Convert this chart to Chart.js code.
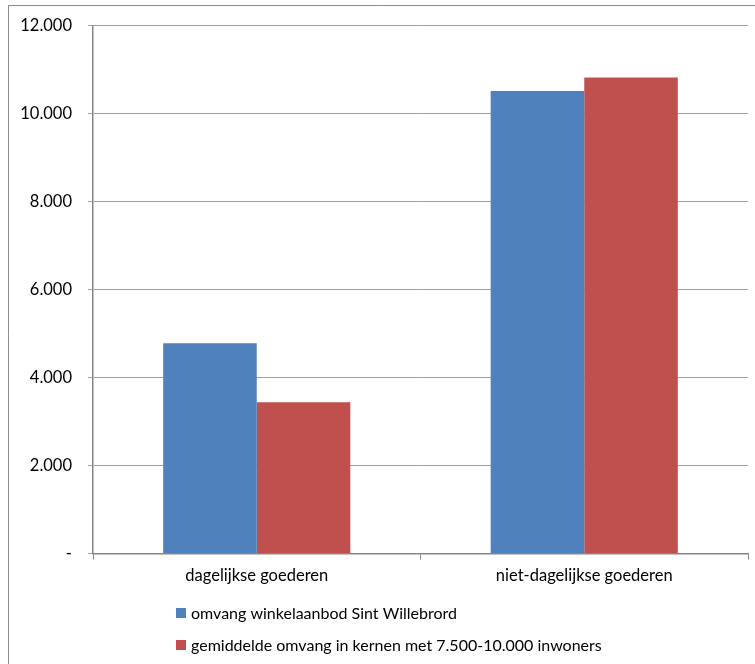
<!DOCTYPE html>
<html>
<head>
<meta charset="utf-8">
<script src="https://cdn.jsdelivr.net/npm/chart.js@4.4.1/dist/chart.umd.min.js"></script>
<style>
  html, body { margin: 0; padding: 0; background: #fff; }
  #wrap { width: 755px; height: 664px; }
</style>
</head>
<body>
<div id="wrap"><canvas id="c" width="755" height="664"></canvas></div>
<script>
// Winkelaanbod (m² wvo) per branchegroep
const categories = ['dagelijkse goederen', 'niet-dagelijkse goederen'];
const seriesNames = [
  'omvang winkelaanbod Sint Willebrord',
  'gemiddelde omvang in kernen met 7.500-10.000 inwoners'
];
const sintWillebrord = [4780, 10520];
const gemiddeldeKernen = [3440, 10825];
const yTickLabels = ['-', '2.000', '4.000', '6.000', '8.000', '10.000', '12.000'];
const seriesColors = ['#4F81BD', '#C0504D'];

const FONT = 'Lato, "Open Sans", sans-serif';
const FONT_SIZE = 16.5;
const LEGEND_FONT_SIZE = 16;

// Frame around the chart plus a vertical legend beneath the axis
const framePlugin = {
  id: 'frame',
  beforeDraw(chart) {
    const ctx = chart.ctx;
    ctx.save();
    ctx.fillStyle = '#fff';
    ctx.fillRect(0, 0, chart.width, chart.height);
    ctx.strokeStyle = '#8c8c8c';
    ctx.lineWidth = 1;
    ctx.beginPath();
    ctx.moveTo(8.5, chart.height);
    ctx.lineTo(8.5, 5.5);
    ctx.lineTo(chart.width, 5.5);
    ctx.stroke();
    ctx.restore();
  },
  afterDraw(chart) {
    const ctx = chart.ctx;
    ctx.save();
    ctx.font = LEGEND_FONT_SIZE + 'px ' + FONT;
    ctx.textBaseline = 'middle';
    ctx.textAlign = 'left';
    const x0 = 176, rows = [613, 645];
    chart.data.datasets.forEach((ds, i) => {
      ctx.fillStyle = ds.backgroundColor;
      ctx.fillRect(x0, rows[i] - 5, 10, 10);
      ctx.fillStyle = '#000';
      ctx.fillText(ds.label, x0 + 15, rows[i] + 1);
    });
    ctx.restore();
  }
};

new Chart(document.getElementById('c'), {
  type: 'bar',
  data: {
    labels: categories,
    datasets: [
      { label: seriesNames[0], data: sintWillebrord, backgroundColor: seriesColors[0] },
      { label: seriesNames[1], data: gemiddeldeKernen, backgroundColor: seriesColors[1] }
    ]
  },
  options: {
    responsive: false,
    devicePixelRatio: 1,
    animation: false,
    layout: { padding: { left: 0, top: 25, right: 7, bottom: 0 } },
    datasets: { bar: { categoryPercentage: 0.5714, barPercentage: 1, borderWidth: 0 } },
    plugins: { legend: { display: false }, tooltip: { enabled: false } },
    scales: {
      x: {
        grid: {
          display: true, drawOnChartArea: false, drawTicks: true,
          tickLength: 6, color: '#868686', offset: true
        },
        border: { color: '#868686', width: 1.5 },
        ticks: { color: '#000', font: { family: FONT, size: FONT_SIZE }, padding: 6, maxRotation: 0 },
        afterFit(scale) { scale.height = 110.5; }
      },
      y: {
        min: 0, max: 12000,
        grid: { color: '#a0a0a0', tickLength: 5, drawTicks: true, lineWidth: 1 },
        border: { color: '#868686', width: 1.5 },
        ticks: {
          stepSize: 2000, color: '#000', padding: 16,
          font: { family: FONT, size: FONT_SIZE },
          callback: (v) => yTickLabels[Math.round(v / 2000)]
        },
        afterFit(scale) { scale.width = 93; }
      }
    }
  },
  plugins: [framePlugin]
});
</script>
</body>
</html>
